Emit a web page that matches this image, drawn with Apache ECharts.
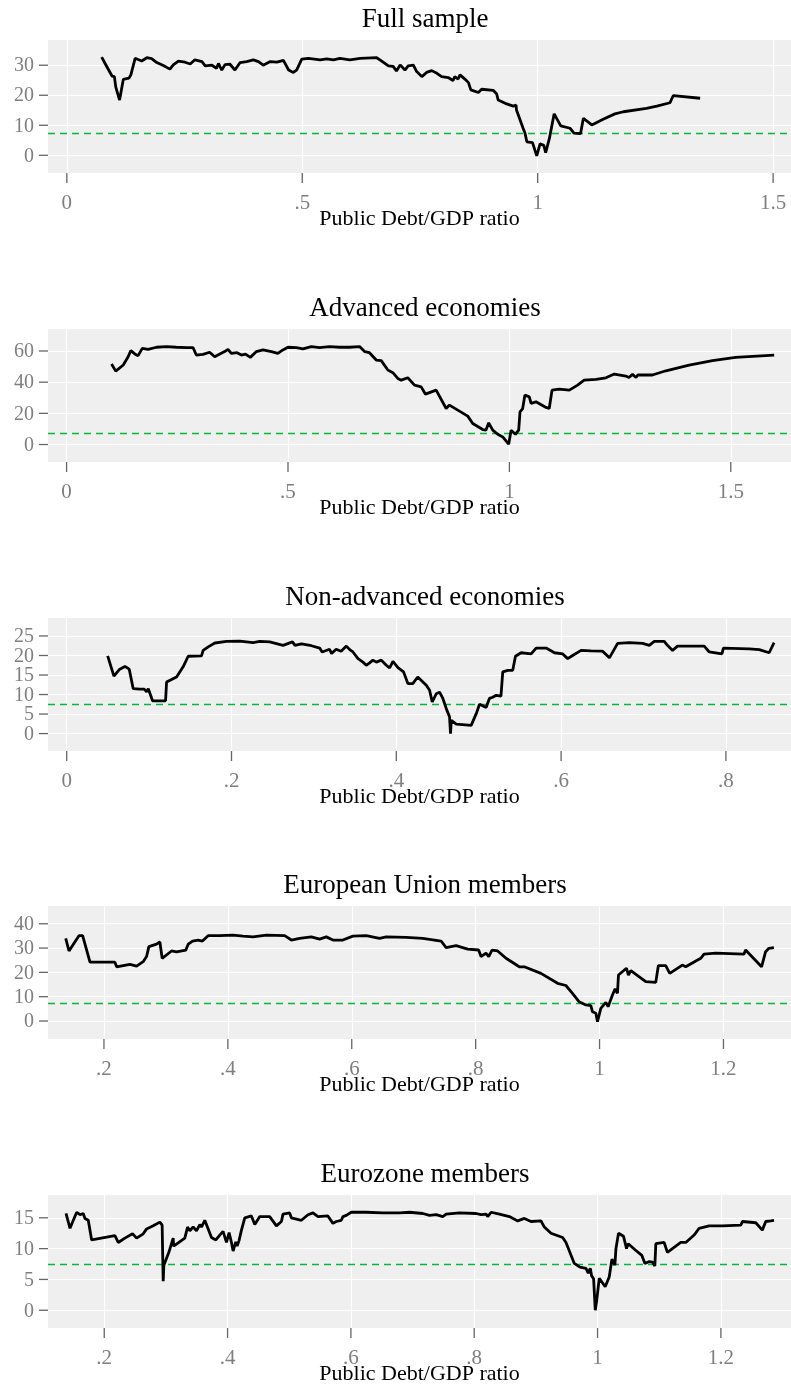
<!DOCTYPE html>
<html>
<head>
<meta charset="utf-8">
<script src="https://cdn.jsdelivr.net/npm/echarts@6/dist/echarts.min.js"></script>
<style>
  html, body { margin: 0; padding: 0; background: #fff; }
  #chart { width: 791px; height: 1386px; }
</style>
</head>
<body>
<div id="chart"></div>
<script>
// panel titles
const panelTitles = ['Full sample', 'Advanced economies', 'Non-advanced economies', 'European Union members', 'Eurozone members']
const xAxisTitle = 'Public Debt/GDP ratio'
const threshold = 7.4

// [debt/gdp ratio, value]
const fullSample = [[0.074,32.7],[0.085,29.5],[0.096,26.4],[0.101,26.2],[0.104,22.7],[0.112,18.4],[0.120,25.3],[0.132,25.7],[0.136,26.8],[0.145,32.3],[0.159,31.4],[0.170,32.5],[0.180,32.2],[0.191,30.9],[0.205,29.9],[0.219,28.7],[0.226,30.1],[0.237,31.4],[0.251,31.0],[0.262,30.4],[0.272,31.8],[0.287,31.2],[0.294,29.8],[0.308,30.0],[0.318,29.0],[0.322,30.6],[0.329,28.4],[0.336,30.2],[0.346,30.4],[0.357,28.4],[0.368,30.9],[0.382,31.2],[0.396,31.8],[0.407,31.2],[0.417,30.0],[0.432,31.2],[0.446,31.0],[0.460,31.6],[0.471,28.4],[0.481,27.6],[0.488,28.4],[0.499,32.0],[0.513,32.3],[0.538,31.8],[0.552,32.1],[0.566,31.8],[0.580,32.3],[0.601,31.8],[0.623,32.3],[0.658,32.5],[0.665,31.8],[0.683,29.8],[0.693,29.6],[0.700,28.1],[0.708,30.1],[0.718,28.4],[0.725,29.8],[0.736,30.0],[0.743,27.9],[0.754,26.2],[0.764,27.6],[0.775,28.2],[0.786,27.3],[0.796,26.2],[0.810,25.9],[0.820,24.9],[0.824,26.2],[0.831,25.4],[0.835,26.8],[0.846,25.3],[0.853,24.2],[0.858,21.8],[0.874,20.9],[0.881,22.0],[0.906,21.6],[0.913,20.4],[0.916,18.4],[0.931,17.3],[0.948,16.4],[0.954,16.7],[0.955,15.1],[0.969,9.0],[0.973,7.4],[0.977,4.5],[0.989,4.2],[0.998,-0.2],[1.005,3.8],[1.013,3.3],[1.017,0.9],[1.025,5.7],[1.035,13.8],[1.049,9.8],[1.051,10.4],[1.069,9.0],[1.077,7.4],[1.091,7.2],[1.097,12.3],[1.115,10.1],[1.139,12.0],[1.164,13.8],[1.182,14.5],[1.185,14.2],[1.231,15.6],[1.253,16.4],[1.281,17.5],[1.288,19.9],[1.345,19.0]]

const advanced = [[0.1015,51.6],[0.111,47.1],[0.128,51],[0.139,56.3],[0.145,60.2],[0.154,58.1],[0.1615,57],[0.171,61.7],[0.184,61.1],[0.203,62.4],[0.2256,62.8],[0.248,62.4],[0.2707,62.1],[0.2857,62.1],[0.293,57.4],[0.308,57.8],[0.323,59.2],[0.3345,56.3],[0.346,58],[0.357,59.6],[0.3645,61.1],[0.372,58.5],[0.385,58.9],[0.395,57.4],[0.404,58],[0.415,55.9],[0.4286,59.6],[0.4435,60.7],[0.4625,59.6],[0.477,58.5],[0.4886,60.7],[0.4999,62.4],[0.519,62.1],[0.5337,61.3],[0.5527,62.8],[0.5714,62.1],[0.594,62.8],[0.6165,62.4],[0.639,62.4],[0.6616,62.8],[0.673,59.6],[0.684,58.9],[0.6993,54.2],[0.7106,53.8],[0.7255,47.8],[0.7368,46.1],[0.748,42.4],[0.7557,41.3],[0.7706,42.8],[0.7857,38.1],[0.8008,37],[0.8105,32.3],[0.8346,34.9],[0.8572,23.1],[0.8646,25.3],[0.906,18.2],[0.9172,13.5],[0.9398,9.6],[0.947,9.2],[0.9533,13.9],[0.9624,9.2],[0.9736,6.6],[0.985,4.9],[0.9984,0.2],[1.0038,9.2],[1.0136,6.6],[1.021,9.2],[1.024,21],[1.030,23.1],[1.035,31.7],[1.045,30.6],[1.049,26.4],[1.060,27.4],[1.0828,23.8],[1.09,23.1],[1.0963,34.9],[1.1128,35.6],[1.1354,34.9],[1.154,38.1],[1.169,41.3],[1.1955,41.8],[1.218,42.8],[1.237,45.2],[1.263,43.9],[1.27,43],[1.278,45],[1.286,43],[1.29,44.6],[1.323,44.6],[1.3535,47.3],[1.406,51],[1.4586,53.8],[1.511,55.9],[1.598,57.4]]

const nonAdvanced = [[0.0497,19.9],[0.0573,14.7],[0.0638,16.4],[0.0707,17.2],[0.0759,16.5],[0.0807,11.5],[0.0888,11.4],[0.094,11.4],[0.097,10.7],[0.099,11.5],[0.1042,8.4],[0.12,8.4],[0.1212,13.2],[0.1333,14.5],[0.1413,17.1],[0.1474,19.8],[0.1636,19.9],[0.1656,21.3],[0.1717,22.2],[0.1798,23.2],[0.1939,23.6],[0.21,23.7],[0.2262,23.3],[0.2343,23.6],[0.2464,23.5],[0.2626,22.6],[0.274,23.5],[0.277,22.6],[0.2848,23.0],[0.297,22.5],[0.307,21.9],[0.310,20.9],[0.319,21.6],[0.3215,20.5],[0.327,21.6],[0.333,21.1],[0.3354,20.6],[0.3394,22.4],[0.3435,21.5],[0.3474,20.9],[0.3535,19.2],[0.3595,18.3],[0.3636,17.5],[0.3676,18.1],[0.3716,18.8],[0.3758,18.3],[0.3818,18.8],[0.3879,17.5],[0.3919,16.8],[0.3959,18.5],[0.398,18.6],[0.402,16.9],[0.404,17.2],[0.4088,15.8],[0.414,12.8],[0.42,12.8],[0.426,14.5],[0.4364,12.4],[0.4404,11.1],[0.4436,8.1],[0.4485,10.2],[0.4525,10.6],[0.4565,9.0],[0.4613,6.0],[0.4646,4.3],[0.4658,0],[0.4667,3.4],[0.4727,2.4],[0.4909,2.1],[0.497,5.1],[0.501,7.5],[0.509,6.7],[0.513,9.0],[0.517,9.3],[0.5212,9.8],[0.527,9.6],[0.5292,15.8],[0.5353,16.2],[0.5413,16.2],[0.5446,19.8],[0.5515,20.7],[0.5636,20.4],[0.5697,21.9],[0.5818,21.9],[0.5919,20.7],[0.602,20.4],[0.608,19.2],[0.614,20.0],[0.6242,21.3],[0.6364,21.2],[0.6504,21.1],[0.6586,19.4],[0.6686,23.1],[0.6828,23.3],[0.699,23.1],[0.707,22.6],[0.7131,23.6],[0.7252,23.6],[0.729,22.6],[0.7353,21.3],[0.7413,22.4],[0.7737,22.4],[0.7798,20.9],[0.7951,20.4],[0.797,21.9],[0.8282,21.7],[0.8404,21.5],[0.8525,20.7],[0.8585,23.3]]

const euMembers = [[0.1383,34],[0.1436,28.8],[0.1533,32.6],[0.1597,35.1],[0.1656,35.1],[0.1775,24.2],[0.2177,24.2],[0.2205,22.3],[0.2419,23.3],[0.2527,22.6],[0.2633,24.4],[0.2688,26.5],[0.2725,30.6],[0.2849,31.6],[0.2903,32.5],[0.294,25.8],[0.3091,28.8],[0.3172,28.4],[0.3322,29.2],[0.336,31.6],[0.343,32.9],[0.3519,33.3],[0.359,32.9],[0.3681,35.1],[0.3869,35.1],[0.4084,35.3],[0.4245,34.9],[0.4406,34.6],[0.4622,35.3],[0.4917,35.1],[0.5025,33.3],[0.5159,34],[0.5347,34.6],[0.5481,33.7],[0.5589,34.6],[0.5696,33.3],[0.5857,33.3],[0.6018,34.9],[0.6233,35.1],[0.6448,34],[0.6556,34.6],[0.6878,34.4],[0.7146,34],[0.7442,32.9],[0.7523,30.2],[0.7684,31.0],[0.7871,29.6],[0.8048,29.2],[0.8087,26.5],[0.8167,27.9],[0.8211,26.5],[0.8264,29.2],[0.8355,28.8],[0.849,25.8],[0.8704,22.3],[0.8785,22.3],[0.9054,19.6],[0.9322,15.5],[0.9457,14.6],[0.9563,11.4],[0.9671,7.9],[0.9779,6.6],[0.9859,6.3],[0.9886,3.8],[0.994,3.2],[0.9966,-0.3],[1.002,5.2],[1.0101,7.7],[1.0138,5.9],[1.0208,10.7],[1.0251,13.2],[1.0289,11.4],[1.0305,18.9],[1.0434,21.7],[1.0466,18.9],[1.0504,20.7],[1.0746,16.2],[1.0907,15.9],[1.0949,22.8],[1.1068,22.8],[1.1133,19.6],[1.1336,23.0],[1.139,22.3],[1.1633,25.8],[1.1686,27.5],[1.1874,27.9],[1.233,27.5],[1.2357,29.2],[1.2615,22.3],[1.268,28.5],[1.2733,29.9],[1.2814,30.2]]

const ezMembers = [[0.138,15.7],[0.1445,13.3],[0.1553,15.9],[0.1607,15.5],[0.166,15.7],[0.1687,14.9],[0.1741,14.6],[0.1796,11.4],[0.2173,12.1],[0.2227,11.0],[0.2335,11.7],[0.2459,12.4],[0.2525,11.7],[0.2632,12.4],[0.2687,13.2],[0.2794,13.7],[0.2902,14.3],[0.2939,13.8],[0.2956,4.7],[0.2967,7.3],[0.3048,9.4],[0.3118,11.7],[0.3125,10.4],[0.3307,11.7],[0.3351,13.5],[0.3388,12.9],[0.3442,13.5],[0.3496,12.9],[0.355,13.9],[0.3577,13.5],[0.3631,14.6],[0.3739,11.8],[0.381,11.4],[0.3874,12.2],[0.3927,12.8],[0.3982,11.0],[0.4025,12.6],[0.4063,11.0],[0.409,9.6],[0.4133,11.1],[0.4155,10.4],[0.4186,11.3],[0.4225,13.0],[0.4279,15.0],[0.4387,15.3],[0.4441,13.9],[0.4522,15.2],[0.4683,15.2],[0.4792,13.7],[0.4873,14.4],[0.4899,15.6],[0.5007,15.8],[0.5034,15.0],[0.5197,14.6],[0.5304,15.5],[0.5385,15.8],[0.5466,15.2],[0.5627,15.3],[0.5709,14.1],[0.5763,14.4],[0.5844,14.6],[0.5871,15.2],[0.5925,15.4],[0.6006,15.9],[0.6249,15.9],[0.6518,15.8],[0.6789,15.8],[0.695,15.9],[0.7166,15.7],[0.7275,15.4],[0.7383,15.5],[0.749,15.2],[0.7545,15.6],[0.776,15.8],[0.803,15.7],[0.8111,15.5],[0.8192,15.6],[0.8219,15.2],[0.8274,15.9],[0.8408,15.6],[0.857,15.2],[0.8705,14.5],[0.8813,14.9],[0.8921,14.4],[0.9083,14.5],[0.9137,13.5],[0.9245,12.5],[0.9434,11.8],[0.9488,11.0],[0.9623,7.6],[0.9715,7.0],[0.9812,6.8],[0.9849,6.0],[0.9882,6.8],[0.9903,5.6],[0.9936,5.1],[0.9963,0],[0.9984,1.4],[1.0028,5.2],[1.0124,3.8],[1.0189,5.4],[1.0233,8.3],[1.0281,7.3],[1.0298,10.0],[1.034,12.5],[1.0421,12.0],[1.047,10.0],[1.0497,10.8],[1.0622,9.7],[1.0719,8.9],[1.0768,7.6],[1.0837,7.9],[1.0891,7.8],[1.0929,7.2],[1.0945,10.8],[1.108,11.0],[1.1133,9.4],[1.135,11.0],[1.1431,11.0],[1.1566,12.2],[1.1647,13.3],[1.1809,13.7],[1.2025,13.7],[1.2323,13.8],[1.2349,14.4],[1.2566,14.2],[1.2672,13.0],[1.2727,14.4],[1.2808,14.5],[1.2862,14.6]]

// tick labels
const xTicks = [[0, 0.5, 1, 1.5], [0, 0.5, 1, 1.5], [0, 0.2, 0.4, 0.6, 0.8], [0.2, 0.4, 0.6, 0.8, 1, 1.2], [0.2, 0.4, 0.6, 0.8, 1, 1.2]]
const yTicks = [[0, 10, 20, 30], [0, 20, 40, 60], [0, 5, 10, 15, 20, 25], [0, 10, 20, 30, 40], [0, 5, 10, 15]]

const panelData = [fullSample, advanced, nonAdvanced, euMembers, ezMembers]

// layout
const gridTops = [40, 329, 618, 906, 1195]
const xRanges = [[-0.04, 1.538], [-0.042, 1.636], [-0.0227, 0.879], [0.1097, 1.309], [0.1088, 1.3137]]
const yRanges = [[-5.9, 38.4], [-11.2, 74.1], [-4.46, 29.6], [-7.4, 47.3], [-2.88, 18.7]]

const font = "'Liberation Serif', 'Times New Roman', serif"
const tickColor = '#666'
const labelColor = '#7f7f7f'

function tickText(v) {
  return String(v).replace(/^0\./, '.')
}

// outside tick marks (and the y tick labels, which echarts would thin out)
function renderTick(params, api) {
  const p = api.coord([api.value(0), api.value(1)])
  if (api.value(2) === 1) {
    return {
      type: 'group',
      children: [{
        type: 'line',
        shape: { x1: p[0] - 9, y1: p[1], x2: p[0], y2: p[1] },
        style: { stroke: tickColor, lineWidth: 1.3 }
      }, {
        type: 'text',
        x: p[0] - 14, y: p[1] + 1,
        style: {
          text: tickText(api.value(1)),
          fill: labelColor, font: '20px ' + font,
          align: 'right', verticalAlign: 'middle'
        }
      }]
    }
  }
  return {
    type: 'line',
    shape: { x1: p[0], y1: p[1], x2: p[0], y2: p[1] + 10 },
    style: { stroke: tickColor, lineWidth: 1.3 }
  }
}

const myChart = echarts.init(document.getElementById('chart'), null, { renderer: 'canvas' })

let title = [], grid = [], xAxis = [], yAxis = [], series = []
panelData.forEach((data, i) => {
  title.push({
    text: panelTitles[i],
    left: 420,
    textAlign: 'center',
    top: gridTops[i] - 39,
    textStyle: { fontFamily: font, fontSize: 27, fontWeight: 'normal', color: '#000' }
  })
  grid.push({
    left: 48, top: gridTops[i], width: 744, height: 133,
    show: true, backgroundColor: '#efefef', borderWidth: 0
  })
  xAxis.push({
    type: 'value', gridIndex: i, position: 'bottom',
    min: xRanges[i][0], max: xRanges[i][1],
    axisLine: { show: false, onZero: false },
    axisTick: { show: false },
    axisLabel: {
      customValues: xTicks[i], formatter: tickText, margin: 20, hideOverlap: false,
      showMinLabel: true, showMaxLabel: true,
      fontFamily: font, fontSize: 21, color: labelColor
    },
    splitLine: { show: false },
    name: xAxisTitle, nameLocation: 'middle', nameGap: 35, nameMoveOverlap: false,
    nameTextStyle: { fontFamily: font, fontSize: 22, color: '#000' }
  })
  yAxis.push({
    type: 'value', gridIndex: i, position: 'left',
    min: yRanges[i][0], max: yRanges[i][1],
    axisLine: { show: false, onZero: false },
    axisTick: { show: false },
    axisLabel: { show: false },
    splitLine: { show: false }
  })
  // white grid lines
  series.push({
    type: 'line', xAxisIndex: i, yAxisIndex: i, data: [], silent: true,
    markLine: {
      silent: true, symbol: 'none', z: 1, animation: false,
      label: { show: false },
      lineStyle: { color: '#ffffff', width: 1.2, type: 'solid' },
      data: yTicks[i].map(v => ({ yAxis: v })).concat(xTicks[i].map(v => ({ xAxis: v })))
    }
  })
  // threshold line
  series.push({
    type: 'line', xAxisIndex: i, yAxisIndex: i, data: [], silent: true,
    markLine: {
      silent: true, symbol: 'none', z: 2, animation: false,
      label: { show: false },
      lineStyle: { color: '#00BA38', width: 1.3, type: [7, 5] },
      data: [{ yAxis: threshold }]
    }
  })
  // axis ticks
  series.push({
    type: 'custom', xAxisIndex: i, yAxisIndex: i, silent: true, clip: false,
    renderItem: renderTick,
    data: xTicks[i].map(v => [v, yRanges[i][0], 0]).concat(yTicks[i].map(v => [xRanges[i][0], v, 1]))
  })
  series.push({
    type: 'line', xAxisIndex: i, yAxisIndex: i, z: 3,
    data: data,
    showSymbol: false, symbol: 'none',
    lineStyle: { color: '#000', width: 2.8 }
  })
})

myChart.setOption({
  animation: false,
  backgroundColor: '#fff',
  title, grid, xAxis, yAxis, series
})
</script>
</body>
</html>
